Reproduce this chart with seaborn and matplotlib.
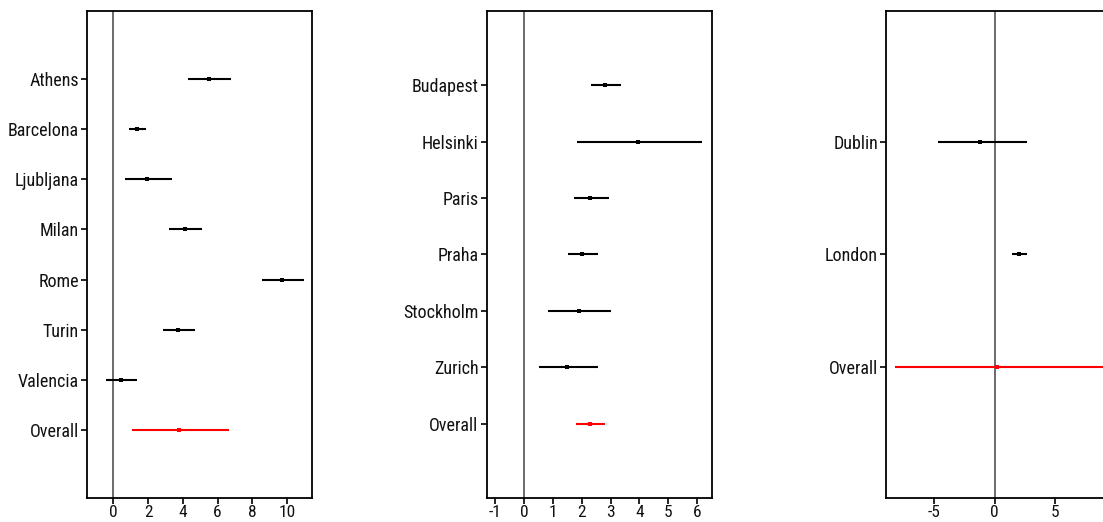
import matplotlib
matplotlib.use("Agg")
import matplotlib.pyplot as plt
from matplotlib import font_manager
import seaborn as sns
import pandas as pd

sns.set_theme(style="white")

# Prefer a narrow sans face when one is installed
installed = {f.name for f in font_manager.fontManager.ttflist}
narrow = [n for n in ["Liberation Sans Narrow", "Arial Narrow", "DejaVu Sans Condensed",
                      "Roboto Condensed"] if n in installed]
plt.rcParams["font.family"] = narrow + ["Liberation Sans", "DejaVu Sans"]
condensed = bool(narrow)

# Group 1: Southern European cities
cities_1 = ["Athens", "Barcelona", "Ljubljana", "Milan", "Rome", "Turin", "Valencia", "Overall"]
est_1 = [5.48, 1.35, 1.96, 4.13, 9.73, 3.71, 0.42, 3.75]
low_1 = [4.27, 0.90, 0.69, 3.23, 8.58, 2.83, -0.42, 1.10]
high_1 = [6.77, 1.87, 3.37, 5.10, 10.96, 4.69, 1.38, 6.65]

# Group 2: Central / Northern European cities
cities_2 = ["Budapest", "Helsinki", "Paris", "Praha", "Stockholm", "Zurich", "Overall"]
est_2 = [2.81, 3.94, 2.30, 2.00, 1.90, 1.48, 2.28]
low_2 = [2.32, 1.85, 1.72, 1.51, 0.82, 0.51, 1.79]
high_2 = [3.36, 6.18, 2.95, 2.55, 3.03, 2.55, 2.79]

# Group 3: British Isles
cities_3 = ["Dublin", "London", "Overall"]
est_3 = [-1.18, 1.98, 0.22]
low_3 = [-4.68, 1.38, -8.24]
high_3 = [2.64, 2.64, 9.10]

ticks_1 = [0, 2, 4, 6, 8, 10]
ticks_2 = [-1, 0, 1, 2, 3, 4, 5, 6]
ticks_3 = [-5, 0, 5]

W, H = 1103, 522
fig = plt.figure(figsize=(W / 100, H / 100), dpi=100)

panels = [
    (cities_1, est_1, low_1, high_1, ticks_1, (-1.5, 11.45), 1.36, 87.3),
    (cities_2, est_2, low_2, high_2, ticks_2, (-1.29, 6.5), 1.31, 486.7),
    (cities_3, est_3, low_3, high_3, ticks_3, (-8.95, 9.61), 1.16, 886.3),
]

ax_w = 225 / W
ax_b = 1 - 498 / H
ax_h = 487 / H
label_size = 13 if condensed else 11.5

for cities, est, low, high, ticks, xlim, pad, left_px in panels:
    ax = fig.add_axes([left_px / W, ax_b, ax_w, ax_h])
    df = pd.DataFrame({"city": cities, "est": est, "low": low, "high": high})
    df["pos"] = range(len(df))
    df["kind"] = ["overall" if c == "Overall" else "city" for c in cities]
    colors = {"city": "black", "overall": "#ff0000"}

    ax.axvline(0, color="#444444", lw=1.1, zorder=1)
    for kind, sub in df.groupby("kind"):
        ax.hlines(sub["pos"], sub["low"], sub["high"], color=colors[kind],
                  lw=1.5, zorder=2)
    sns.scatterplot(data=df[df.kind == "city"], x="est", y="pos", ax=ax,
                    color="black", marker="s", s=6, linewidth=0, zorder=3,
                    legend=False)
    sns.scatterplot(data=df[df.kind == "overall"], x="est", y="pos", ax=ax,
                    color="#ff0000", marker="s", s=12, linewidth=0, zorder=3,
                    legend=False)

    ax.set_xlim(*xlim)
    ax.set_ylim(len(df) - 1 + pad, -pad)
    ax.set_yticks(df["pos"])
    ax.set_yticklabels(cities)
    ax.set_xticks(ticks)
    ax.set_xticklabels([str(t) for t in ticks])
    ax.set_xlabel("")
    ax.set_ylabel("")
    ax.tick_params(axis="both", which="major", direction="out", length=4,
                   width=1.2, color="black", labelcolor="#111111",
                   left=True, bottom=True)
    ax.tick_params(axis="y", labelsize=label_size, pad=2)
    ax.tick_params(axis="x", labelsize=label_size - 0.5, pad=1)
    for sp in ax.spines.values():
        sp.set_visible(True)
        sp.set_color("black")
        sp.set_linewidth(1.3)

fig.savefig("out.png", dpi=100)
